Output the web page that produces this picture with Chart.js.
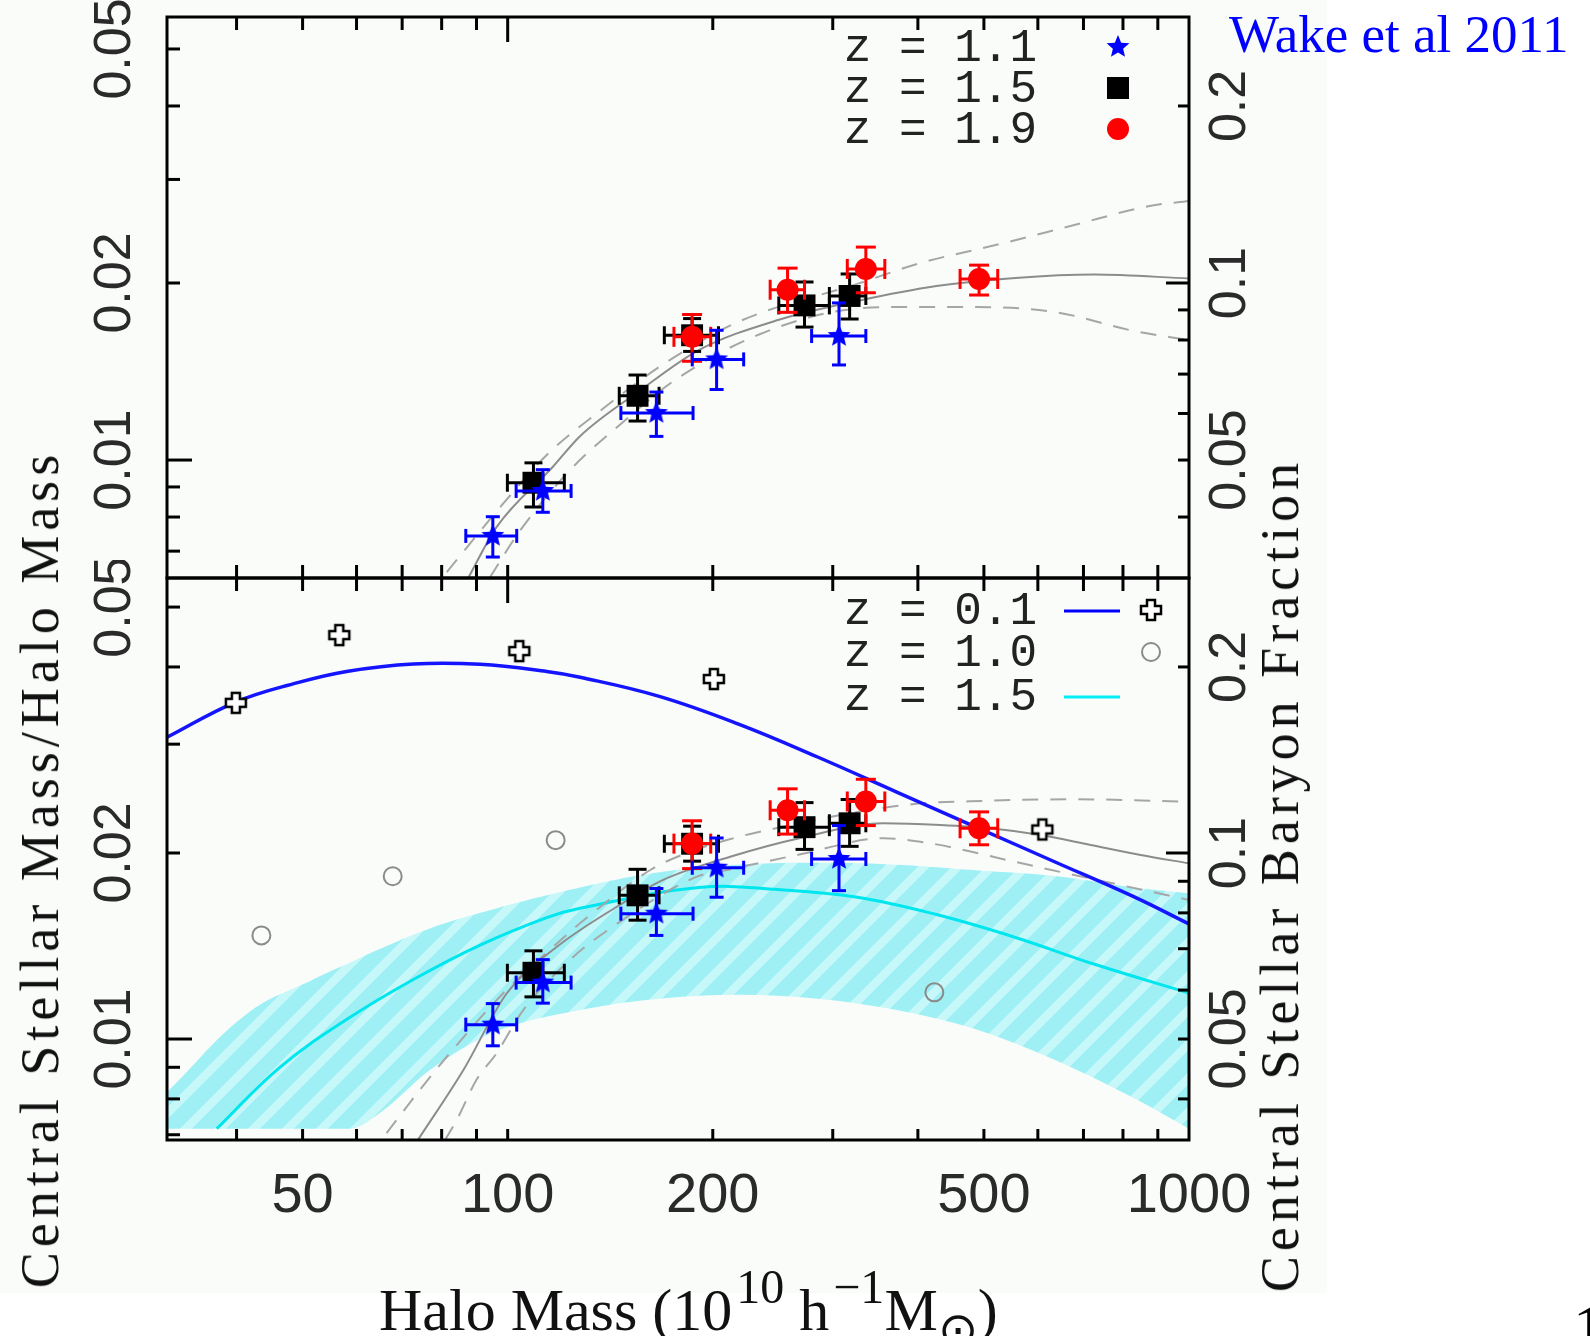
<!DOCTYPE html>
<html>
<head>
<meta charset="utf-8">
<script src="https://cdn.jsdelivr.net/npm/chart.js@4.4.1/dist/chart.umd.min.js"></script>
<style>
  body { margin: 0; background: #fff; }
  #page { position: relative; width: 1590px; height: 1336px; overflow: hidden; background: #fff; }
  #paper { position: absolute; left: 0; top: 0; width: 1327px; height: 1293px; background: #fafcfa; }
  canvas { position: absolute; left: 0; }
  .ytitle { position: absolute; white-space: nowrap; font: 54px "Liberation Serif", serif; letter-spacing: 5px;
            color: #111; transform: translate(-50%, -50%) rotate(-90deg); }
  #xtitle { position: absolute; left: 379px; top: 1280px; font: 60px "Liberation Serif", serif; line-height: 60px;
            white-space: nowrap; color: #111; }
  #xtitle sup { font-size: 0.8em; position: relative; top: -27px; vertical-align: baseline; margin-left: 4px; }
  #xtitle sub { font-size: 0.8em; position: relative; top: 16px; vertical-align: baseline; }
  #credit { position: absolute; left: 1229px; top: 8px; font: 53px "Liberation Serif", serif; line-height: 53px;
            color: #0000ff; white-space: nowrap; }
  #pageno { position: absolute; left: 1573px; top: 1296px; font: 64px "Liberation Serif", serif; line-height: 64px; color: #000; }
</style>
</head>
<body>
<div id="page">
  <div id="paper"></div>
  <canvas id="topPanel" width="1590" height="640" style="top:0"></canvas>
  <canvas id="bottomPanel" width="1590" height="776" style="top:560px"></canvas>
  <div class="ytitle" style="left:40px; top:869px">Central Stellar Mass/Halo Mass</div>
  <div class="ytitle" style="left:1280px; top:875px">Central Stellar Baryon Fraction</div>
  <div id="xtitle">Halo Mass (10<sup>10</sup> h<sup>−1</sup>M<sub>⊙</sub>)</div>
  <div id="credit">Wake et al 2011</div>
  <div id="pageno">1</div>
</div>
<script>
// axis ticks and labels
const massLabels = [50, 100, 200, 500, 1000];
const massTicks = [40, 50, 60, 70, 80, 90, 100, 200, 300, 400, 500, 600, 700, 800, 900];
const ratioLabels = [0.01, 0.02, 0.05];
const ratioTicks = [0.007, 0.008, 0.009, 0.01, 0.02, 0.03, 0.04, 0.05];
const baryonLabels = [0.05, 0.1, 0.2];
const baryonTicks = [0.04, 0.05, 0.06, 0.07, 0.08, 0.09, 0.1, 0.2];
const baryonPerRatio = 5;

// halo mass of the measured points (same in both panels)
const massZ11 = [95.1, 112.6, 165.3, 202.6, 306.4];
const massZ11Lo = [86.8, 102.9, 146.6, 186.6, 279.3];
const massZ11Hi = [103.1, 123.9, 187.1, 222.0, 335.5];
const massZ15 = [109.1, 155.1, 186.5, 272.7, 317.6];
const massZ15Lo = [99.9, 145.8, 169.8, 250.0, 296.6];
const massZ15Hi = [121.1, 166.8, 203.9, 296.6, 335.5];
const massZ19 = [186.5, 257.5, 335.5, 491.9];
const massZ19Lo = [175.4, 242.8, 315.1, 461.3];
const massZ19Hi = [198.6, 272.7, 357.7, 523.9];

// top panel: stellar/halo mass ratio
const topZ11 = [0.00743, 0.00886, 0.01202, 0.01483, 0.01625];
const topZ11Lo = [0.00684, 0.00815, 0.01097, 0.01318, 0.01451];
const topZ11Hi = [0.00801, 0.00963, 0.01305, 0.01662, 0.01850];
const topZ15 = [0.00915, 0.01286, 0.0163, 0.01832, 0.01901];
const topZ15Lo = [0.00832, 0.01165, 0.0153, 0.01683, 0.01737];
const topZ15Hi = [0.00989, 0.01395, 0.0174, 0.02008, 0.02072];
const topZ19 = [0.0162, 0.01948, 0.02113, 0.02032];
const topZ19Lo = [0.01472, 0.01783, 0.01925, 0.01908];
const topZ19Hi = [0.01768, 0.0212, 0.02302, 0.02145];

const topFitMass = [87.5, 96.3, 116.6, 127.7, 156, 190.8, 249.3, 326, 425.9, 556.3, 726.8, 1000];
const topFit = [0.0063, 0.00769, 0.00975, 0.01098, 0.0131, 0.01538, 0.0173, 0.01864, 0.01976, 0.0204, 0.02067, 0.02036];
const topUpperMass = [81.4, 98.4, 114.1, 138.4, 170.3, 218, 325.9, 403.4, 520, 670, 875.3, 1000];
const topUpper = [0.00645, 0.00842, 0.0102, 0.01226, 0.01462, 0.01718, 0.01993, 0.02163, 0.0232, 0.025, 0.02704, 0.02758];
const topLowerMass = [94.2, 104.3, 123.5, 146, 176.1, 234.8, 326, 382.1, 486, 636, 830.9, 1000];
const topLower = [0.00632, 0.00759, 0.00962, 0.01147, 0.01368, 0.01638, 0.0181, 0.0182, 0.0182, 0.01785, 0.01657, 0.016];

// bottom panel
const botZ11 = [0.01055, 0.01234, 0.01595, 0.01893, 0.01956];
const botZ11Lo = [0.00975, 0.01143, 0.01471, 0.01696, 0.01738];
const botZ11Hi = [0.01141, 0.01344, 0.01752, 0.02115, 0.02215];
const botZ15 = [0.0128, 0.01708, 0.0207, 0.02202, 0.02234];
const botZ15Lo = [0.0117, 0.01557, 0.0194, 0.02027, 0.0205];
const botZ15Hi = [0.01389, 0.01882, 0.0221, 0.02413, 0.02441];
const botZ19 = [0.02071, 0.02345, 0.02423, 0.02193];
const botZ19Lo = [0.01887, 0.02146, 0.02215, 0.02062];
const botZ19Hi = [0.02255, 0.0254, 0.02632, 0.02331];

const botFitMass = [73.8, 86.1, 99.7, 118.1, 144.6, 169.1, 212.1, 268.9, 356.3, 431.7, 511.1, 605.6, 717, 849.2, 1000];
const botFit = [0.00686, 0.00891, 0.01186, 0.0141, 0.01637, 0.01809, 0.01972, 0.02115, 0.02234, 0.0222, 0.02193, 0.02138, 0.0206, 0.01985, 0.01924];
const botUpperMass = [66.4, 74.3, 81.4, 98.5, 118.1, 132.1, 161.9, 185.3, 209.8, 227, 382.1, 511.1, 676.8, 1000];
const botUpper = [0.00704, 0.00827, 0.00936, 0.01186, 0.01428, 0.01587, 0.01877, 0.0201, 0.02099, 0.02147, 0.02391, 0.0243, 0.02443, 0.02421];
const botLowerMass = [80.9, 84.2, 90.0, 96.3, 105.4, 124.9, 138.2, 189.6, 209.8, 268.9, 356.3, 417.4, 472.5, 540.9, 612.4, 1000];
const botLower = [0.00686, 0.0074, 0.00859, 0.00948, 0.01114, 0.01359, 0.01483, 0.01831, 0.01877, 0.0199, 0.02113, 0.02073, 0.02017, 0.01948, 0.01889, 0.01679];

// z = 0.1 model and data, z = 1.0 data, z = 1.5 model with its band
const massZ01Fit = [31.62, 39.9, 49.0, 58.0, 72.7, 91.1, 114.1, 127.7, 166.9, 218.2, 285, 372.4, 486.7, 636, 830.9, 1000];
const fitZ01 = [0.03078, 0.0351, 0.03769, 0.03934, 0.04045, 0.0404, 0.03934, 0.0385, 0.03585, 0.03233, 0.0286, 0.0251, 0.02203, 0.01934, 0.01698, 0.01535];
const massZ01 = [39.9, 56.6, 104.0, 200.7, 609.2];
const z01 = [0.03499, 0.04504, 0.04244, 0.03824, 0.02183];
const massZ10 = [43.5, 67.8, 117.6, 422.9];
const z10 = [0.01471, 0.01834, 0.02098, 0.0119];
const massZ15Fit = [37.4, 46.3, 58.0, 72.7, 91.1, 114.1, 127.7, 190.8, 249.3, 326, 425.9, 556.3, 726.8, 1000];
const fitZ15 = [0.00716, 0.009, 0.01075, 0.01248, 0.01419, 0.01572, 0.01628, 0.01758, 0.01745, 0.01696, 0.0159, 0.0146, 0.01321, 0.01187];
const bandMass = [31.62, 41.4, 51.8, 58.7, 64.9, 76.9, 95, 127.7, 166.9, 218.2, 285, 372.4, 486.7, 636, 830.9, 1000];
const bandHi = [0.0082, 0.01098, 0.01248, 0.0133, 0.01399, 0.0151, 0.0162, 0.01758, 0.01861, 0.01914, 0.01928, 0.01914, 0.01875, 0.01835, 0.01758, 0.0172];
const bandLo = [0.00716, 0.00716, 0.00716, 0.00716, 0.00759, 0.00891, 0.01023, 0.01114, 0.01162, 0.01179, 0.01162, 0.01114, 0.01037, 0.00925, 0.00802, 0.00716];

// marker pictures
function makeStar(color, r) {
    const c = document.createElement('canvas');
    c.width = c.height = Math.ceil(r * 2 + 2);
    const g = c.getContext('2d');
    g.fillStyle = color;
    g.beginPath();
    for (let k = 0; k < 10; k++) {
        const rad = k % 2 ? r * 0.45 : r;
        const ang = -Math.PI / 2 + k * Math.PI / 5;
        g.lineTo(c.width / 2 + rad * Math.cos(ang), c.height / 2 + rad * Math.sin(ang));
    }
    g.closePath();
    g.fill();
    return c;
}

function makeCross() {
    const c = document.createElement('canvas');
    c.width = c.height = 26;
    const g = c.getContext('2d');
    const m = 13, a = 4, b = 10;
    g.beginPath();
    [[-a,-b],[a,-b],[a,-a],[b,-a],[b,a],[a,a],[a,b],[-a,b],[-a,a],[-b,a],[-b,-a],[-a,-a]]
        .forEach(p => g.lineTo(m + p[0], m + p[1]));
    g.closePath();
    g.fillStyle = '#fff';
    g.fill();
    g.strokeStyle = '#000';
    g.lineWidth = 2.5;
    g.stroke();
    return c;
}

// light cyan with faint diagonal bands, like the shaded range
function makeBand(ctx) {
    const c = document.createElement('canvas');
    c.width = c.height = 34;
    const g = c.getContext('2d');
    for (let i = 0; i < 34; i++) {
        for (let j = 0; j < 34; j++) {
            g.fillStyle = ((i + j) % 34) < 12 ? '#c6f7f9' : '#9ff0f5';
            g.fillRect(i, j, 1, 1);
        }
    }
    return ctx.createPattern(c, 'repeat');
}

const starImg = makeStar('#0000ff', 12);
const crossImg = makeCross();

function points(xs, ys) {
    return xs.map((v, i) => ({ x: v, y: ys[i] }));
}
function xBars(lo, hi, ys) {
    return lo.flatMap((v, i) => [{ x: v, y: ys[i] }, { x: hi[i], y: ys[i] }, { x: hi[i], y: null }]);
}
function yBars(xs, lo, hi) {
    return xs.flatMap((v, i) => [{ x: v, y: lo[i] }, { x: v, y: hi[i] }, { x: v, y: null }]);
}

function curve(xs, ys, color, width, dash, order) {
    return { data: points(xs, ys), borderColor: color, borderWidth: width, borderDash: dash || [],
             pointRadius: 0, cubicInterpolationMode: 'monotone', fill: false, order: order };
}
function smoothCurve(xs, ys, color, width, order) {
    return { data: points(xs, ys), borderColor: color, borderWidth: width, pointRadius: 0,
             tension: 0.4, fill: false, order: order };
}
function bars(data, color, cap, rotation, order) {
    return { data: data, borderColor: color, borderWidth: 3, spanGaps: false, pointStyle: 'line',
             pointRadius: cap, pointRotation: rotation, pointBorderColor: color, pointBorderWidth: 3,
             fill: false, order: order };
}
function markers(xs, ys, style, radius, fill, border, borderWidth, order) {
    return { data: points(xs, ys), showLine: false, pointStyle: style, pointRadius: radius,
             pointBackgroundColor: fill, pointBorderColor: border, pointBorderWidth: borderWidth, order: order };
}

// measured points with error bars: black squares, red circles, blue stars on top
function measured(z11, z11Lo, z11Hi, z15, z15Lo, z15Hi, z19, z19Lo, z19Hi) {
    return [
        bars(xBars(massZ15Lo, massZ15Hi, z15), '#000', 9, 90, 50),
        bars(yBars(massZ15, z15Lo, z15Hi), '#000', 9, 0, 50),
        markers(massZ15, z15, 'rect', 15.5, '#000', '#000', 0, 45),
        bars(xBars(massZ19Lo, massZ19Hi, z19), '#ff0000', 10, 90, 40),
        bars(yBars(massZ19, z19Lo, z19Hi), '#ff0000', 10, 0, 40),
        markers(massZ19, z19, 'circle', 11, '#ff0000', '#ff0000', 0, 35),
        bars(xBars(massZ11Lo, massZ11Hi, z11), '#0000ff', 7, 90, 30),
        bars(yBars(massZ11, z11Lo, z11Hi), '#0000ff', 7, 0, 30),
        markers(massZ11, z11, starImg, 12, '#0000ff', '#0000ff', 0, 25)
    ];
}

function line(ctx, x1, y1, x2, y2) {
    ctx.beginPath();
    ctx.moveTo(x1, y1);
    ctx.lineTo(x2, y2);
    ctx.stroke();
}

function drawMarker(ctx, kind, cx, cy) {
    if (kind === 'star') ctx.drawImage(starImg, cx - starImg.width / 2, cy - starImg.height / 2);
    if (kind === 'cross') ctx.drawImage(crossImg, cx - crossImg.width / 2, cy - crossImg.height / 2);
    if (kind === 'square') { ctx.fillStyle = '#000'; ctx.fillRect(cx - 11, cy - 11, 22, 22); }
    if (kind === 'dot') { ctx.fillStyle = '#ff0000'; ctx.beginPath(); ctx.arc(cx, cy, 11, 0, Math.PI * 2); ctx.fill(); }
    if (kind === 'ring') { ctx.strokeStyle = '#8a8a8a'; ctx.lineWidth = 2; ctx.beginPath(); ctx.arc(cx, cy, 9, 0, Math.PI * 2); ctx.stroke(); }
}

// frame, inward ticks, rotated tick labels and the in-plot key
const panelAxes = {
    id: 'panelAxes',
    afterDatasetsDraw(chart, args, opts) {
        const { ctx, chartArea: a } = chart;
        const x = chart.scales.x, y = chart.scales.y, y2 = chart.scales.y2;
        ctx.save();
        ctx.strokeStyle = '#000';
        ctx.lineWidth = 3;
        massTicks.forEach(v => {
            const px = x.getPixelForValue(v);
            line(ctx, px, a.top, px, a.top + (v === 100 ? 25 : 13));
            line(ctx, px, a.bottom, px, a.bottom - opts.bottomTick);
        });
        ratioTicks.forEach(v => {
            if (v < y.min || v > y.max) return;
            const py = y.getPixelForValue(v);
            line(ctx, a.left, py, a.left + (v === 0.01 ? 25 : 13), py);
        });
        baryonTicks.forEach(v => {
            if (v < y2.min || v > y2.max) return;
            const py = y2.getPixelForValue(v);
            line(ctx, a.right, py, a.right - (v === 0.1 ? 23 : 11), py);
        });
        ctx.strokeRect(a.left, a.top, a.right - a.left, a.bottom - a.top);

        ctx.fillStyle = '#2a2a2a';
        ctx.font = '52px "Liberation Sans", sans-serif';
        ctx.textAlign = 'center';
        ctx.textBaseline = 'middle';
        const rotated = (txt, cx, cy) => {
            ctx.save();
            ctx.translate(cx, cy);
            ctx.rotate(-Math.PI / 2);
            ctx.fillText(txt, 0, 0);
            ctx.restore();
        };
        ratioLabels.forEach(v => rotated(String(v), 116, y.getPixelForValue(v)));
        baryonLabels.forEach(v => rotated(String(v), 1231, y2.getPixelForValue(v)));
        if (opts.xLabels) {
            ctx.font = '56px "Liberation Sans", sans-serif';
            ctx.textBaseline = 'alphabetic';
            massLabels.forEach(v => ctx.fillText(String(v), x.getPixelForValue(v), a.bottom + 72));
        }

        ctx.font = '46px "Liberation Mono", monospace';
        ctx.textAlign = 'right';
        ctx.textBaseline = 'middle';
        opts.key.forEach(item => {
            ctx.fillStyle = '#222';
            ctx.fillText(item.label, a.right - 152, a.top + item.dy);
            if (item.line) {
                ctx.strokeStyle = item.line;
                ctx.lineWidth = 3;
                line(ctx, a.right - 125, a.top + item.dy - 1, a.right - 69, a.top + item.dy - 1);
            }
            if (item.marker) drawMarker(ctx, item.marker, a.right - item.mx, a.top + item.dy - 2);
        });
        ctx.restore();
    }
};

function panelOptions(yMin, yMax, pad, axes) {
    return {
        responsive: false,
        animation: false,
        events: [],
        layout: { padding: pad },
        plugins: { legend: { display: false }, tooltip: { enabled: false }, panelAxes: axes },
        scales: {
            x: { type: 'logarithmic', min: 31.62, max: 1000, bounds: 'data', display: false },
            y: { type: 'logarithmic', min: yMin, max: yMax, bounds: 'data', display: false },
            y2: { type: 'logarithmic', position: 'right', min: yMin * baryonPerRatio, max: yMax * baryonPerRatio,
                  bounds: 'data', display: false }
        }
    };
}

const topCanvas = document.getElementById('topPanel');
new Chart(topCanvas, {
    type: 'line',
    data: {
        datasets: [
            curve(topUpperMass, topUpper, '#a6a6a6', 2, [16, 12], 80),
            curve(topLowerMass, topLower, '#a6a6a6', 2, [16, 12], 80),
            curve(topFitMass, topFit, '#8c8c8c', 2, [], 79),
            ...measured(topZ11, topZ11Lo, topZ11Hi, topZ15, topZ15Lo, topZ15Hi, topZ19, topZ19Lo, topZ19Hi)
        ]
    },
    options: panelOptions(0.006301, 0.05667, { left: 167, right: 401, top: 17, bottom: 62 }, {
        bottomTick: 13,
        xLabels: false,
        key: [
            { label: 'z = 1.1', dy: 32, marker: 'star', mx: 71 },
            { label: 'z = 1.5', dy: 73, marker: 'square', mx: 71 },
            { label: 'z = 1.9', dy: 114, marker: 'dot', mx: 71 }
        ]
    }),
    plugins: [panelAxes]
});

const bottomCanvas = document.getElementById('bottomPanel');
const bandFill = makeBand(bottomCanvas.getContext('2d'));
new Chart(bottomCanvas, {
    type: 'line',
    data: {
        datasets: [
            { data: points(bandMass, bandHi), borderWidth: 0, pointRadius: 0, tension: 0.4,
              fill: '+1', backgroundColor: bandFill, order: 100 },
            { data: points(bandMass, bandLo), borderWidth: 0, pointRadius: 0, cubicInterpolationMode: 'monotone',
              fill: false, order: 101 },
            smoothCurve(massZ15Fit, fitZ15, '#00e6ee', 3, 90),
            curve(botUpperMass, botUpper, '#a6a6a6', 2, [16, 12], 80),
            curve(botLowerMass, botLower, '#a6a6a6', 2, [16, 12], 80),
            curve(botFitMass, botFit, '#8c8c8c', 2, [], 79),
            smoothCurve(massZ01Fit, fitZ01, '#1414ff', 3.5, 70),
            markers(massZ10, z10, 'circle', 9, 'rgba(0,0,0,0)', '#8a8a8a', 2, 60),
            markers(massZ01, z01, crossImg, 11, '#fff', '#000', 0, 60),
            ...measured(botZ11, botZ11Lo, botZ11Hi, botZ15, botZ15Lo, botZ15Hi, botZ19, botZ19Lo, botZ19Hi)
        ]
    },
    options: panelOptions(0.006864, 0.05572, { left: 167, right: 401, top: 18, bottom: 196 }, {
        bottomTick: 11,
        xLabels: true,
        key: [
            { label: 'z = 0.1', dy: 34, line: '#0000ff', marker: 'cross', mx: 38 },
            { label: 'z = 1.0', dy: 76, marker: 'ring', mx: 38 },
            { label: 'z = 1.5', dy: 120, line: '#00eef5' }
        ]
    }),
    plugins: [panelAxes]
});
</script>
</body>
</html>
